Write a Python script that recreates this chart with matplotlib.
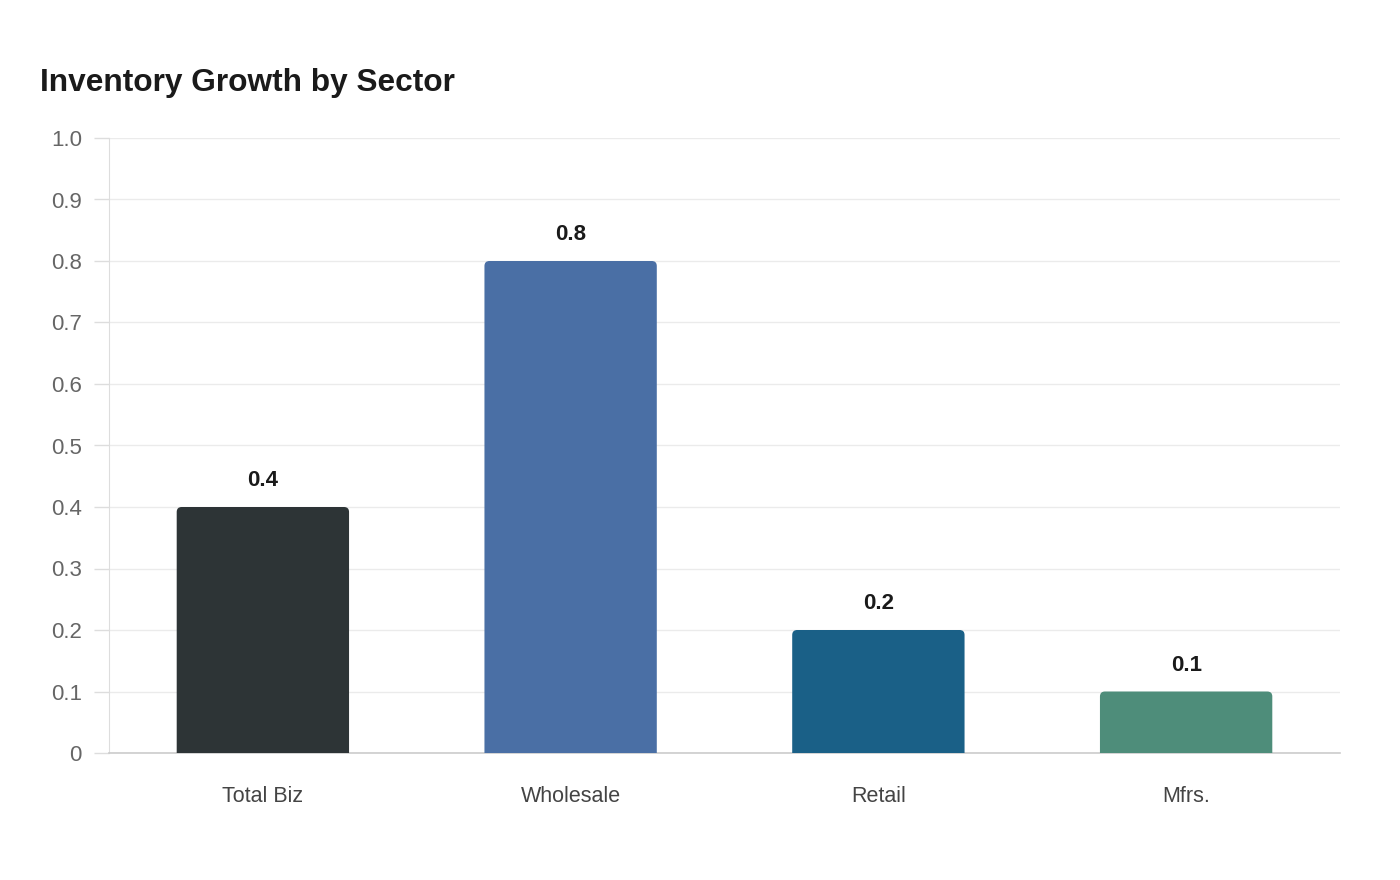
import matplotlib
matplotlib.use("Agg")
import matplotlib.pyplot as plt
from matplotlib.path import Path
from matplotlib.patches import PathPatch

plt.rcParams['font.family'] = ['Liberation Sans', 'DejaVu Sans']

sectors = ["Total Biz", "Wholesale", "Retail", "Mfrs."]
growth = [0.4, 0.8, 0.2, 0.1]
colors = ["#2d3436", "#4a6fa5", "#1a6087", "#4e8d7a"]
yticks = [0, 0.1, 0.2, 0.3, 0.4, 0.5, 0.6, 0.7, 0.8, 0.9, 1.0]
ytick_labels = ["0", "0.1", "0.2", "0.3", "0.4", "0.5", "0.6", "0.7", "0.8", "0.9", "1.0"]

W, H = 1400, 880
fig = plt.figure(figsize=(W / 100, H / 100), dpi=100)
ax = fig.add_axes([109 / W, (H - 753) / H, (1340 - 109) / W, (753 - 138) / H])

ax.set_xlim(-0.5, len(sectors) - 0.5)
ax.set_ylim(0, 1.0)


def top_rounded_bar(x0, w, h, rx, ry):
    # bar with rounded top corners only
    verts = [(x0, 0), (x0, h - ry), (x0, h), (x0 + rx, h),
             (x0 + w - rx, h), (x0 + w, h), (x0 + w, h - ry),
             (x0 + w, 0), (x0, 0)]
    codes = [Path.MOVETO, Path.LINETO, Path.CURVE3, Path.CURVE3,
             Path.LINETO, Path.CURVE3, Path.CURVE3,
             Path.LINETO, Path.CLOSEPOLY]
    return Path(verts, codes)


bar_w = 0.56
px_x = len(sectors) / (1340 - 109)
px_y = 1.0 / (753 - 138)
for i, (v, c) in enumerate(zip(growth, colors)):
    p = top_rounded_bar(i - bar_w / 2, bar_w, v, 5 * px_x, 5 * px_y)
    ax.add_patch(PathPatch(p, facecolor=c, edgecolor="none", zorder=3))
    ax.annotate("%.1f" % v, (i, v), xytext=(0, 15), textcoords="offset points",
                ha="center", va="baseline", fontsize=16, fontweight="bold",
                color="#1a1a1a", zorder=4)

ax.set_xticks(range(len(sectors)))
ax.set_xticklabels(sectors, fontsize=15.5, color="#444444")
ax.set_yticks(yticks)
ax.set_yticklabels(ytick_labels, fontsize=16, color="#666666")
ax.tick_params(axis="x", length=0, pad=23.5)
ax.tick_params(axis="y", length=11, color="#dddddd", width=1, pad=8.5)

ax.grid(axis="y", color="#ebebeb", linewidth=1, zorder=0)
ax.set_axisbelow(True)
for s in ["top", "right"]:
    ax.spines[s].set_visible(False)
ax.spines["left"].set_color("#dddddd")
ax.spines["bottom"].set_color("#cccccc")
ax.spines["bottom"].set_linewidth(1.2)

fig.text(40 / W, 1 - 83 / H, "Inventory Growth by Sector", fontsize=22.8,
         fontweight="bold", color="#1a1a1a", ha="left", va="center")

fig.savefig("out.png", dpi=100, facecolor="white")
